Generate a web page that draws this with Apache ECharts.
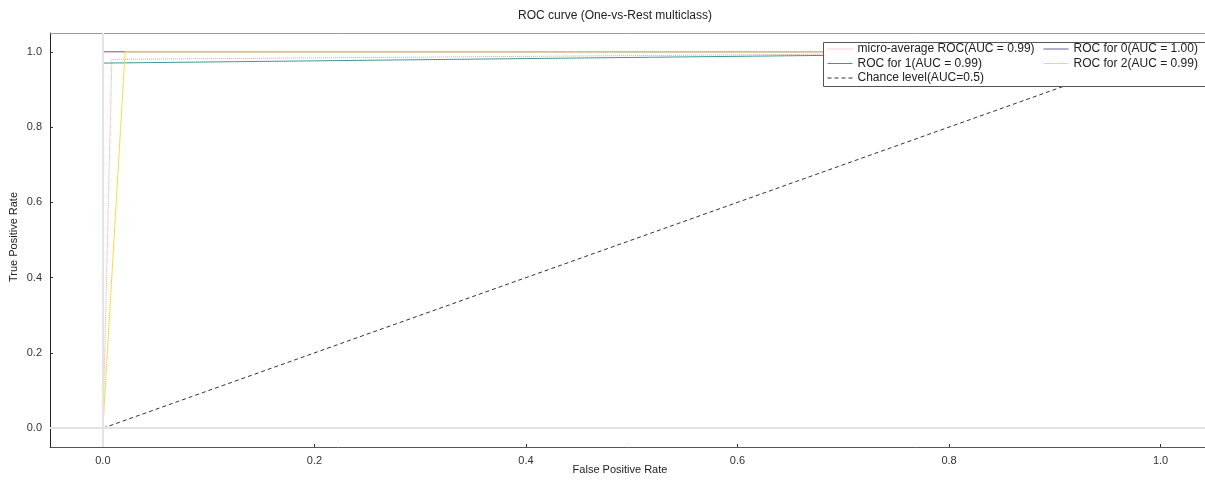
<!DOCTYPE html>
<html>
<head>
<meta charset="utf-8">
<script src="https://cdn.jsdelivr.net/npm/echarts@6/dist/echarts.min.js"></script>
<style>
html,body{margin:0;padding:0;background:#fff;}
#chart{width:1205px;height:481px;}
</style>
</head>
<body>
<div id="chart"></div>
<script>
// ---- data ----
const tickValues = [0, 0.2, 0.4, 0.6, 0.8, 1.0];
const seriesNames = ['micro-average ROC(AUC = 0.99)', 'ROC for 0(AUC = 1.00)', 'ROC for 1(AUC = 0.99)', 'ROC for 2(AUC = 0.99)', 'Chance level(AUC=0.5)'];
const microFpr = [0, 0.0085, 1];
const microTpr = [0, 0.98, 1];
const roc0Fpr = [0, 0, 1];
const roc0Tpr = [0, 1, 1];
const roc1Fpr = [0, 0, 1];
const roc1Tpr = [0, 0.97, 1];
const roc2Fpr = [0, 0.021, 1];
const roc2Tpr = [0, 1, 1];
const chanceFpr = [0, 1];
const chanceTpr = [0, 1];

const pairs = (xs, ys) => xs.map((x, i) => [x, ys[i]]);
const font = '"Liberation Sans", Arial, sans-serif';

const chart = echarts.init(document.getElementById('chart'), null, {renderer: 'canvas'});

function lineSeries(name, data, color, type, z) {
  return {
    name: name, type: 'line', data: data, showSymbol: false, symbol: 'none',
    lineStyle: {color: color, width: 1, type: type}, itemStyle: {color: color},
    z: z, animation: false, silent: true
  };
}

const legendCommon = {
  orient: 'vertical', top: 43, padding: 0, itemWidth: 25, itemHeight: 12, itemGap: 2.5,
  textStyle: {color: '#222', fontSize: 12, lineHeight: 12, fontFamily: font},
  itemStyle: {opacity: 0}, lineStyle: {width: 1}, z: 20, selectedMode: false
};

const option = {
  animation: false,
  backgroundColor: '#fff',
  grid: {left: 50, top: 33, right: 0, bottom: 34, show: false},
  xAxis: [{
    type: 'value', min: -0.05, max: 1.042,
    axisLine: {show: true, onZero: false, lineStyle: {color: '#555', width: 1}},
    axisTick: {show: true, inside: true, length: 3, customValues: tickValues, lineStyle: {color: '#333'}},
    axisLabel: {customValues: tickValues, formatter: v => v.toFixed(1), color: '#333', fontSize: 11, fontFamily: font, margin: 8},
    splitLine: {show: false}
  }, {
    type: 'value', position: 'top', min: -0.05, max: 1.042,
    axisLine: {show: true, onZero: false, lineStyle: {color: '#9a9a9a', width: 1}},
    axisTick: {show: false}, axisLabel: {show: false}, splitLine: {show: false}
  }],
  yAxis: {
    type: 'value', min: -0.05, max: 1.05,
    axisLine: {show: true, onZero: false, lineStyle: {color: '#222', width: 1}},
    axisTick: {show: true, inside: true, length: 3, customValues: tickValues, lineStyle: {color: '#333'}},
    axisLabel: {customValues: tickValues, formatter: v => v.toFixed(1), color: '#333', fontSize: 11, fontFamily: font, margin: 8},
    splitLine: {show: false}
  },
  legend: [
    Object.assign({}, legendCommon, {left: 827, itemTextGap: 6, data: [seriesNames[0], seriesNames[2], seriesNames[4]]}),
    Object.assign({}, legendCommon, {left: 1043, itemTextGap: 5, data: [seriesNames[1], seriesNames[3]]})
  ],
  graphic: [
    {type: 'rect', shape: {x: 823.5, y: 42.5, width: 400, height: 44}, style: {fill: '#fff', stroke: '#555', lineWidth: 1}, z: 10},
    {type: 'text', x: 615, y: 16, style: {text: 'ROC curve (One-vs-Rest multiclass)', fill: '#222', font: '12px ' + font, textAlign: 'center', textVerticalAlign: 'middle'}},
    {type: 'text', x: 620, y: 470, style: {text: 'False Positive Rate', fill: '#222', font: '11px ' + font, textAlign: 'center', textVerticalAlign: 'middle'}},
    {type: 'text', x: 14, y: 237, rotation: Math.PI / 2, style: {text: 'True Positive Rate', fill: '#222', font: '11px ' + font, textAlign: 'center', textVerticalAlign: 'middle'}}
  ],
  series: [
    {
      name: 'ref', type: 'line', data: [], z: 1, silent: true,
      markLine: {
        silent: true, symbol: ['none', 'none'], label: {show: false}, animation: false,
        lineStyle: {color: '#e4e4e4', width: 2, type: 'solid'},
        data: [{xAxis: 0}, {yAxis: 0}]
      }
    },
    lineSeries(seriesNames[0], pairs(microFpr, microTpr), '#ef9db0', 'dotted', 3),
    lineSeries(seriesNames[1], pairs(roc0Fpr, roc0Tpr), '#6e5a92', 'solid', 3),
    lineSeries(seriesNames[2], pairs(roc1Fpr, roc1Tpr), '#3f9896', 'solid', 3),
    lineSeries(seriesNames[3], pairs(roc2Fpr, roc2Tpr), '#f3e043', 'solid', 3),
    lineSeries(seriesNames[4], pairs(chanceFpr, chanceTpr), '#333', [4, 3], 3)
  ]
};
chart.setOption(option);
</script>
</body>
</html>
